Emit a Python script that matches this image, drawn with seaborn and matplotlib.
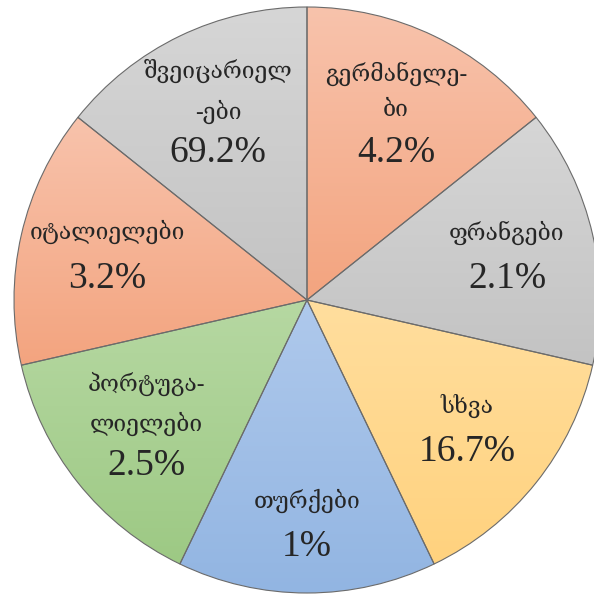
# Pie chart of nationalities (Georgian labels), equal-size slices as in the source.
import numpy as np
import seaborn as sns
import matplotlib.pyplot as plt
import matplotlib.colors as mcolors

# Data (clockwise from the top).
names = ["გერმანელე-\nბი", "ფრანგები", "სხვა", "თურქები",
         "პორტუგა-\nლიელები", "იტალიელები", "შვეიცარიელ\n-ები"]
shares = ["4.2%", "2.1%", "16.7%", "1%", "2.5%", "3.2%", "69.2%"]
sizes = [1, 1, 1, 1, 1, 1, 1]

top_colors = ["#F8C3AC", "#D6D6D6", "#FFDE9E", "#AFC9EC", "#B6D8A2", "#F8C3AC", "#D6D6D6"]
bottom_colors = ["#F3A47F", "#C3C3C3", "#FFD27E", "#92B5E2", "#9DC984", "#F3A47F", "#C3C3C3"]

sns.set_theme(style="white")
plt.rcParams['font.family'] = ['Liberation Serif', 'DejaVu Serif']

fig = plt.figure(figsize=(5.94, 5.95), dpi=100)
ax = fig.add_axes([14 / 594, 2 / 595, 586 / 594, 586 / 595])

wedges, _ = ax.pie(sizes, startangle=90, counterclock=False,
                   colors=bottom_colors,
                   wedgeprops=dict(edgecolor="#6b6b6b", linewidth=0.8))

# vertical gradient fill inside each wedge
for w, c_top, c_bot in zip(wedges, top_colors, bottom_colors):
    ext = w.get_path().get_extents()
    t = np.linspace(0, 1, 200)[:, None]
    a = np.array(mcolors.to_rgb(c_top))
    b = np.array(mcolors.to_rgb(c_bot))
    grad = (1 - t)[:, :, None] * a + t[:, :, None] * b
    im = ax.imshow(grad, extent=[ext.x0, ext.x1, ext.y0, ext.y1],
                   origin="upper", aspect="auto", zorder=1)
    im.set_clip_path(w)
    w.set_facecolor("none")
    w.set_zorder(2)

# labels: name above, percentage below
for w, name, share in zip(wedges, names, shares):
    mid = np.deg2rad((w.theta1 + w.theta2) / 2)
    r = 0.76 if name == "თურქები" else 0.7
    x, y = r * np.cos(mid), r * np.sin(mid)
    two_lines = "\n" in name
    ax.annotate(name, (x, y), xytext=(0, (24 if two_lines else 22) * 0.72),
                textcoords="offset points", ha="center", va="center",
                fontsize=16.5, linespacing=1.85, zorder=3)
    ax.annotate(share, (x, y), xytext=(0, -(38 if two_lines else 24) * 0.72),
                textcoords="offset points", ha="center", va="center",
                fontsize=27, zorder=3)

ax.set_xlim(-1, 1)
ax.set_ylim(-1, 1)
ax.set_aspect("equal")
ax.axis("off")

fig.savefig("out.png", dpi=100)
